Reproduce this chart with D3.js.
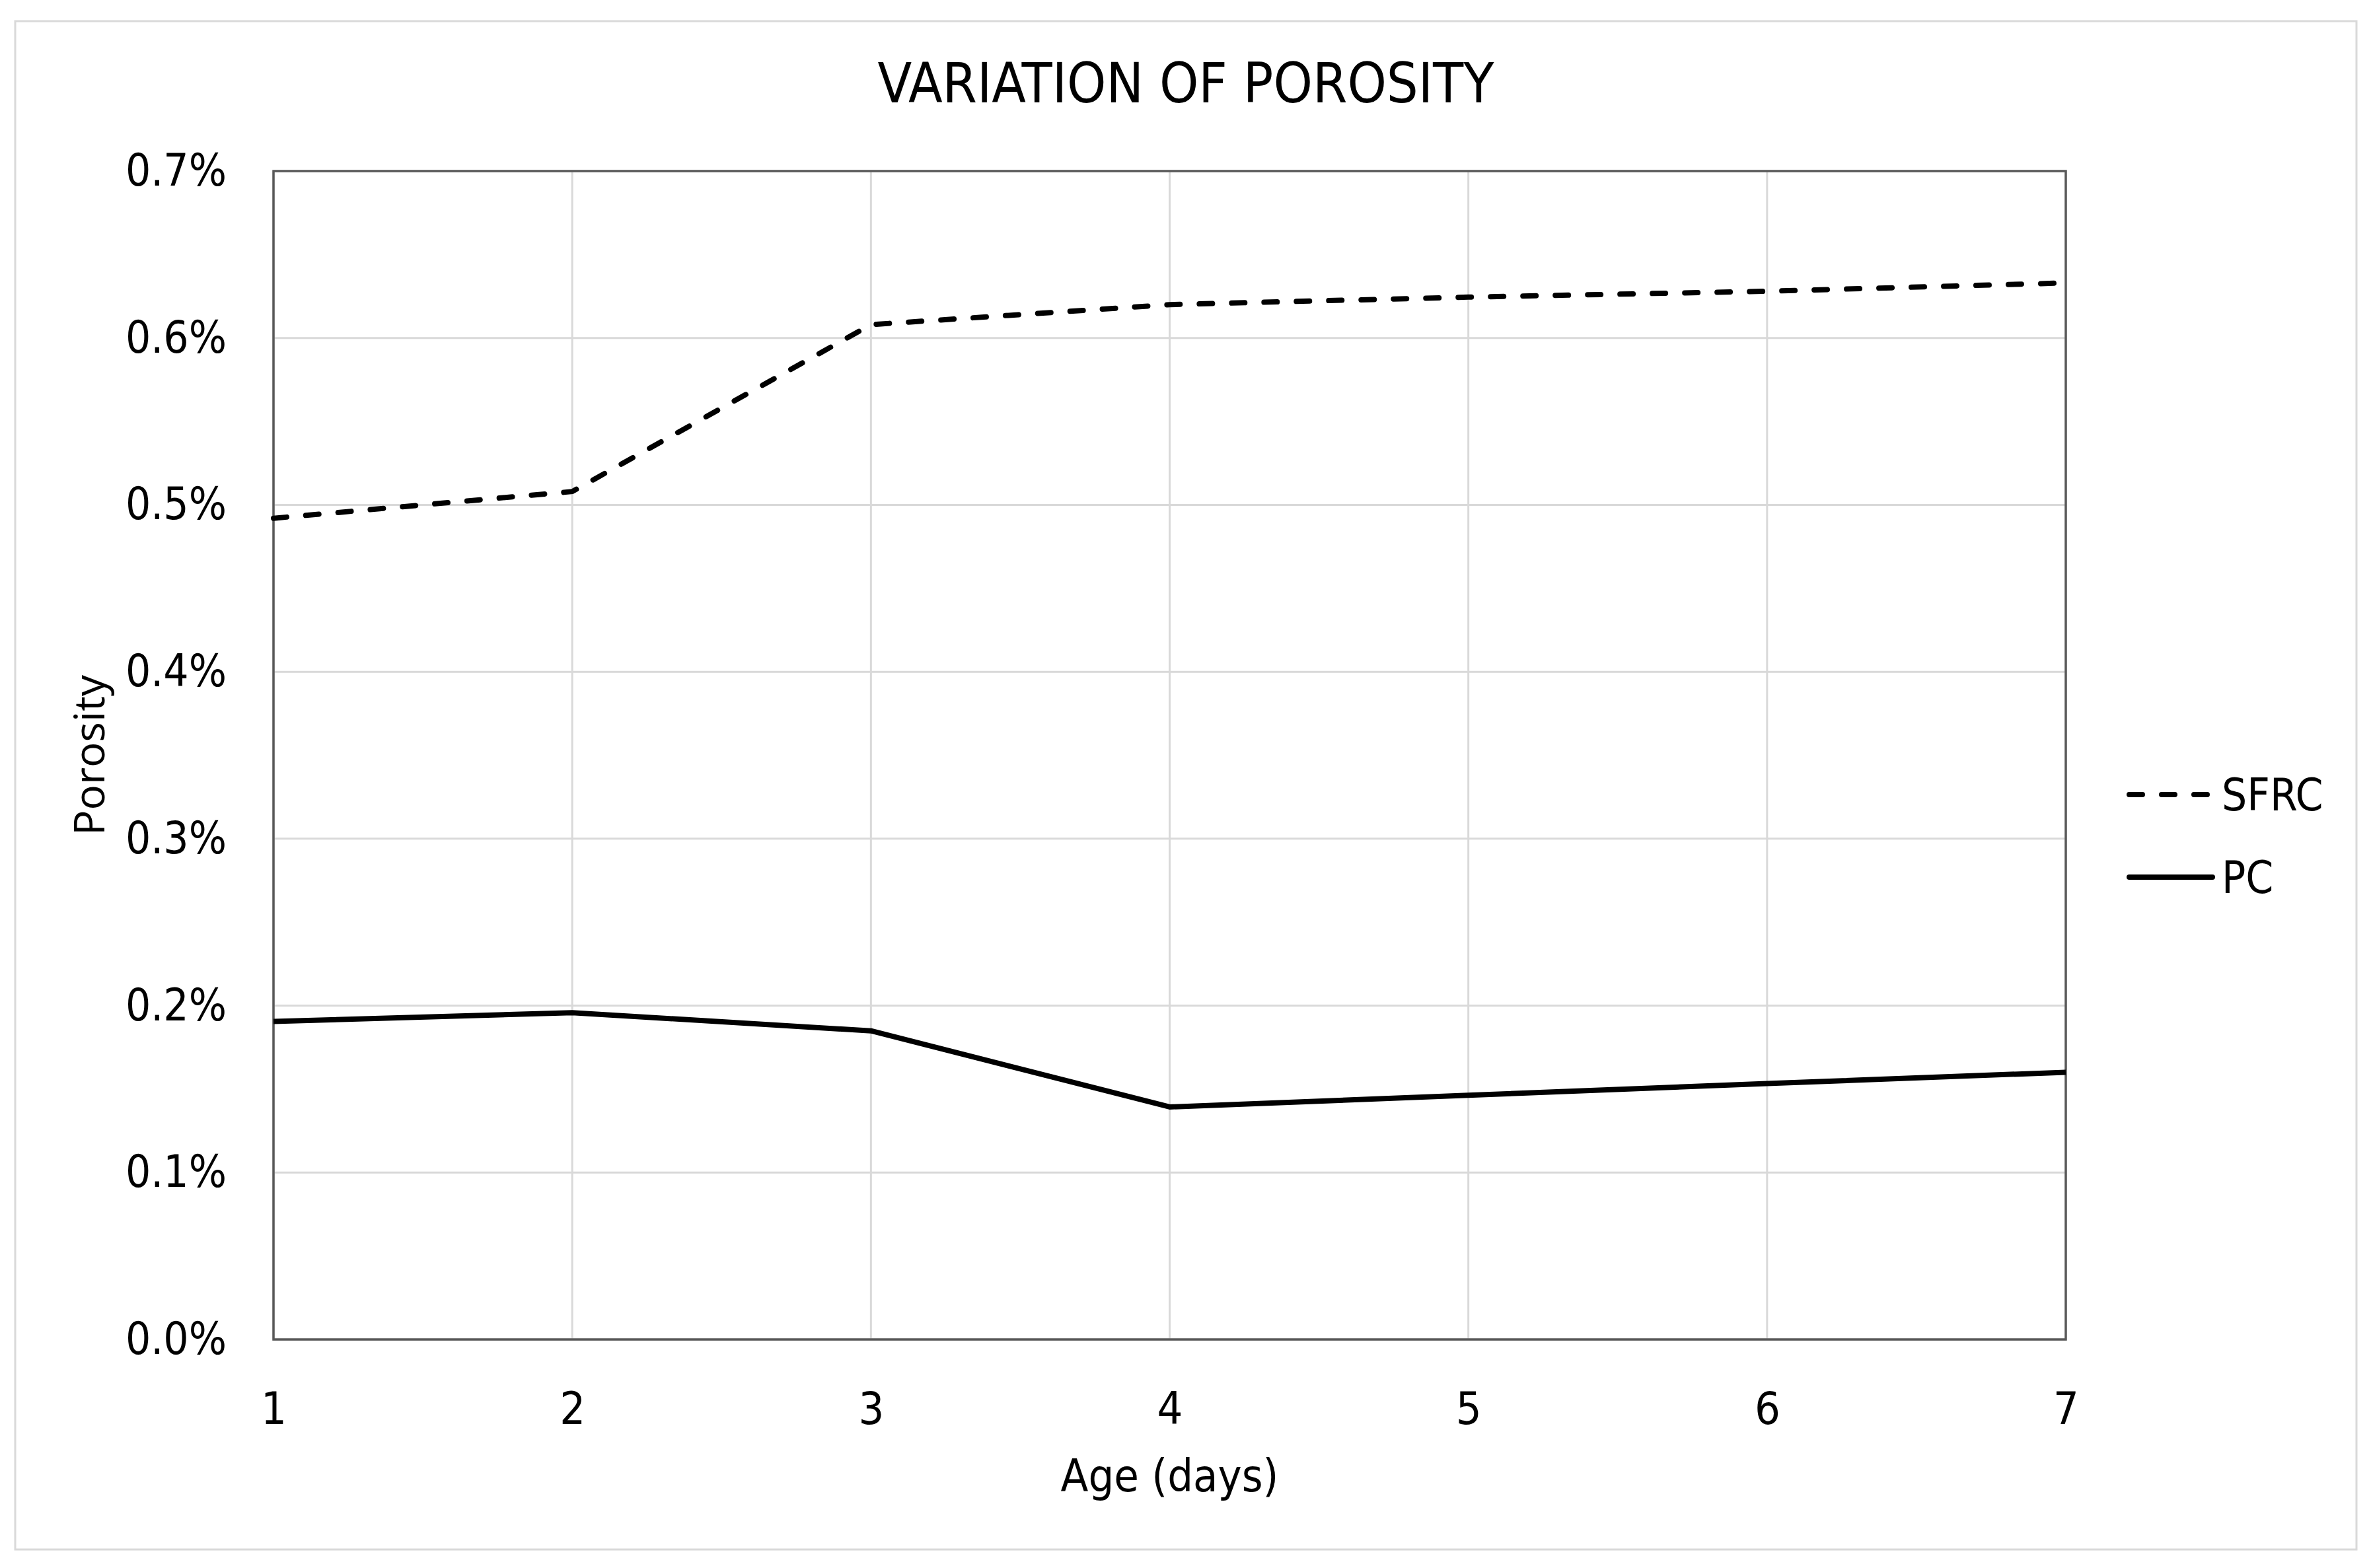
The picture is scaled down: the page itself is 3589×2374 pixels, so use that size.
<!DOCTYPE html>
<html>
<head>
<meta charset="utf-8">
<script src="https://d3js.org/d3.v7.min.js"></script>
<style>
    body { margin: 0; background: #fff; }
    .excel { font-family: 'Liberation Sans Narrow', 'DejaVu Sans Condensed', 'Liberation Sans', sans-serif; fill: #000; }
    .axis text { font-family: 'Liberation Sans Narrow', 'DejaVu Sans Condensed', 'Liberation Sans', sans-serif; fill: #000; }
    .axis .domain, .axis line { display: none; }
</style>
</head>
<body>
<script>
    // data (porosity in %)
    var days = [1, 2, 3, 4, 5, 6, 7];
    var sfrc = [0.492, 0.508, 0.608, 0.620, 0.6245, 0.628, 0.633];
    var pc = [0.1905, 0.1958, 0.1849, 0.1393, 0.1463, 0.1533, 0.1601];
    var yTicks = [0, 0.1, 0.2, 0.3, 0.4, 0.5, 0.6, 0.7];
    var seriesNames = ["SFRC", "PC"];

    var W = 3589, H = 2374;
    var margin = {top: 259, right: 462, bottom: 346, left: 414},
        width = W - margin.left - margin.right,
        height = H - margin.top - margin.bottom;

    var svg = d3.select("body").append("svg")
        .attr("width", W)
        .attr("height", H);

    // outer chart border
    svg.append("rect")
        .attr("x", 23).attr("y", 32)
        .attr("width", 3544).attr("height", 2314)
        .attr("fill", "#fff")
        .attr("stroke", "#d9d9d9")
        .attr("stroke-width", 3);

    var g = svg.append("g").attr("transform", "translate(" + margin.left + "," + margin.top + ")");

    var x = d3.scaleLinear().domain([1, 7]).range([0, width]);
    var y = d3.scaleLinear().domain([0, 0.7]).range([height, 0]);

    // gridlines
    g.selectAll(".hgrid")
        .data(yTicks)
        .enter().append("line")
        .attr("class", "hgrid")
        .attr("x1", 0).attr("x2", width)
        .attr("y1", function(d) { return y(d); })
        .attr("y2", function(d) { return y(d); })
        .attr("stroke", "#d9d9d9")
        .attr("stroke-width", 3);

    g.selectAll(".vgrid")
        .data(days)
        .enter().append("line")
        .attr("class", "vgrid")
        .attr("y1", 0).attr("y2", height)
        .attr("x1", function(d) { return x(d); })
        .attr("x2", function(d) { return x(d); })
        .attr("stroke", "#d9d9d9")
        .attr("stroke-width", 3);

    // plot area box
    g.append("rect")
        .attr("width", width).attr("height", height)
        .attr("fill", "none")
        .attr("stroke", "#595959")
        .attr("stroke-width", 3.5);

    g.append("g")
        .attr("class", "axis")
        .attr("transform", "translate(0," + height + ")")
        .call(d3.axisBottom(x).tickValues(days).tickSize(0).tickPadding(80).tickFormat(d3.format("d")))
        .selectAll("text")
        .attr("font-size", 68);

    g.append("g")
        .attr("class", "axis")
        .call(d3.axisLeft(y).tickValues(yTicks).tickSize(0).tickPadding(71)
            .tickFormat(function(d) { return d.toFixed(1) + "%"; }))
        .selectAll("text")
        .attr("font-size", 67);

    var line = d3.line()
        .x(function(d, i) { return x(days[i]); })
        .y(function(d) { return y(d); });

    g.append("path")
        .datum(sfrc)
        .attr("fill", "none")
        .attr("stroke", "#000")
        .attr("stroke-width", 8)
        .attr("stroke-linecap", "round")
        .attr("stroke-dasharray", "20 29")
        .attr("d", line);

    g.append("path")
        .datum(pc)
        .attr("fill", "none")
        .attr("stroke", "#000")
        .attr("stroke-width", 8)
        .attr("stroke-linejoin", "round")
        .attr("d", line);

    // title and axis titles
    svg.append("text")
        .attr("class", "excel")
        .attr("x", 1795).attr("y", 155)
        .attr("text-anchor", "middle")
        .attr("font-size", 84)
        .text("VARIATION OF POROSITY");

    svg.append("text")
        .attr("class", "excel")
        .attr("x", margin.left + width / 2).attr("y", 2258)
        .attr("text-anchor", "middle")
        .attr("font-size", 68)
        .text("Age (days)");

    svg.append("text")
        .attr("transform", "translate(158," + (margin.top + height / 2) + ") rotate(-90)")
        .attr("text-anchor", "middle")
        .attr("font-family", "'Open Sans', sans-serif")
        .attr("font-size", 64)
        .text("Porosity");

    // legend
    var legend = svg.selectAll(".legend")
        .data(seriesNames)
        .enter().append("g")
        .attr("class", "legend")
        .attr("transform", function(d, i) { return "translate(3223," + (1203 + i * 125) + ")"; });

    legend.append("line")
        .attr("x1", 0).attr("x2", 126)
        .attr("stroke", "#000")
        .attr("stroke-width", 8)
        .attr("stroke-linecap", "round")
        .attr("stroke-dasharray", function(d) { return d === "SFRC" ? "20 29" : null; });

    legend.append("text")
        .attr("class", "excel")
        .attr("x", 140)
        .attr("y", 24)
        .attr("font-size", 67)
        .text(function(d) { return d; });
</script>
</body>
</html>
